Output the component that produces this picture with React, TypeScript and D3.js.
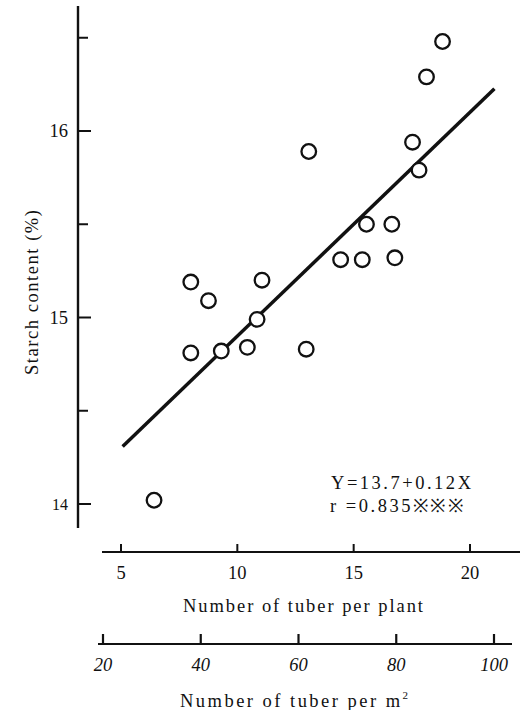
import React from 'react';
import * as d3 from 'd3';

// tuber number per plant vs starch content
const tuberPerPlant = [18.82, 18.13, 13.07, 17.53, 17.81, 15.55, 16.64, 14.44, 15.37, 16.77, 8.0, 11.06, 8.76, 10.85, 8.0, 9.31, 10.43, 12.96, 6.42];
const starchContent = [16.48, 16.29, 15.89, 15.94, 15.79, 15.5, 15.5, 15.31, 15.31, 15.32, 15.19, 15.2, 15.09, 14.99, 14.81, 14.82, 14.84, 14.83, 14.02];

const plantTicks = [5, 10, 15, 20];
const areaTicks = [20, 40, 60, 80, 100];
const starchTicks = [14, 15, 16];
const starchMinorTicks = [14.5, 15.5, 16.5];

const regIntercept = 13.7;
const regSlope = 0.12;
const regRange = [5.07, 21.05];

const eqText = 'Y=13.7+0.12X';
const rText = 'r =0.835※※※';

const FONT = '"Liberation Serif", "Times New Roman", serif';
const FS = 18.5;

export default function App() {
  const x = d3.scaleLinear().domain([5, 20]).range([121, 470]);
  const x2 = d3.scaleLinear().domain([20, 100]).range([103, 494]);
  const y = d3.scaleLinear().domain([14, 16]).range([504, 131]);

  const points = tuberPerPlant.map((v, i) => ({ px: v, sc: starchContent[i] }));

  const reg = d3
    .line<number>()
    .x((d) => x(d))
    .y((d) => y(regIntercept + regSlope * d));

  const axisX = 78;
  const axis1Y = 552;
  const axis2Y = 644;

  return (
    <svg width={525} height={710} style={{ position: 'absolute', left: 0, top: 0, background: '#fff' }}>
      <rect width={525} height={710} fill="#fff" />
      <g fontFamily={FONT} fill="#111">
        {/* y axis */}
        <line x1={axisX} x2={axisX} y1={6} y2={528} stroke="#111" strokeWidth={2.4} />
        {starchTicks.map((t) => (
          <g key={t}>
            <line x1={axisX} x2={axisX + 13} y1={y(t)} y2={y(t)} stroke="#111" strokeWidth={2} />
            <text x={68} y={y(t)} dy="0.35em" textAnchor="end" fontSize={t === 14 ? 16 : FS}>
              {t}
            </text>
          </g>
        ))}
        {starchMinorTicks.map((t) => (
          <line key={t} x1={axisX} x2={axisX + 10} y1={y(t)} y2={y(t)} stroke="#111" strokeWidth={2} />
        ))}
        <text
          transform="translate(38,292.5) rotate(-90)"
          textAnchor="middle"
          fontSize={FS}
          textLength={165}
          lengthAdjust="spacing"
        >
          Starch content (%)
        </text>

        {/* regression line */}
        <path d={reg(regRange) || ''} fill="none" stroke="#111" strokeWidth={3.5} />

        {/* points */}
        {points.map((p, i) => (
          <circle key={i} cx={x(p.px)} cy={y(p.sc)} r={7.3} fill="#fff" stroke="#111" strokeWidth={2.3} />
        ))}

        {/* equation */}
        <text x={331} y={489} fontSize={FS} textLength={140} lengthAdjust="spacing">
          {eqText}
        </text>
        <text x={330} y={512} fontSize={FS} textLength={133} lengthAdjust="spacing">
          {rText}
        </text>

        {/* per plant axis */}
        <line x1={102} x2={520} y1={axis1Y} y2={axis1Y} stroke="#111" strokeWidth={2} />
        {plantTicks.map((t) => (
          <g key={t}>
            <line x1={x(t)} x2={x(t)} y1={axis1Y} y2={axis1Y - 8} stroke="#111" strokeWidth={2} />
            <text x={x(t)} y={579} textAnchor="middle" fontSize={FS}>
              {t}
            </text>
          </g>
        ))}
        <text x={303} y={612} textAnchor="middle" fontSize={FS} textLength={240} lengthAdjust="spacing">
          Number of tuber per plant
        </text>

        {/* per m2 axis */}
        <line x1={98} x2={512} y1={axis2Y} y2={axis2Y} stroke="#111" strokeWidth={2} />
        {areaTicks.map((t) => (
          <g key={t}>
            <line x1={x2(t)} x2={x2(t)} y1={axis2Y} y2={axis2Y - 10} stroke="#111" strokeWidth={2.2} />
            <text x={x2(t)} y={671} textAnchor="middle" fontSize={FS} fontStyle="italic">
              {t}
            </text>
          </g>
        ))}
        <text x={180} y={707} fontSize={FS} textLength={228} lengthAdjust="spacing">
          Number of tuber per m<tspan fontSize={11} dy={-8}>2</tspan>
        </text>
      </g>
    </svg>
  );
}
